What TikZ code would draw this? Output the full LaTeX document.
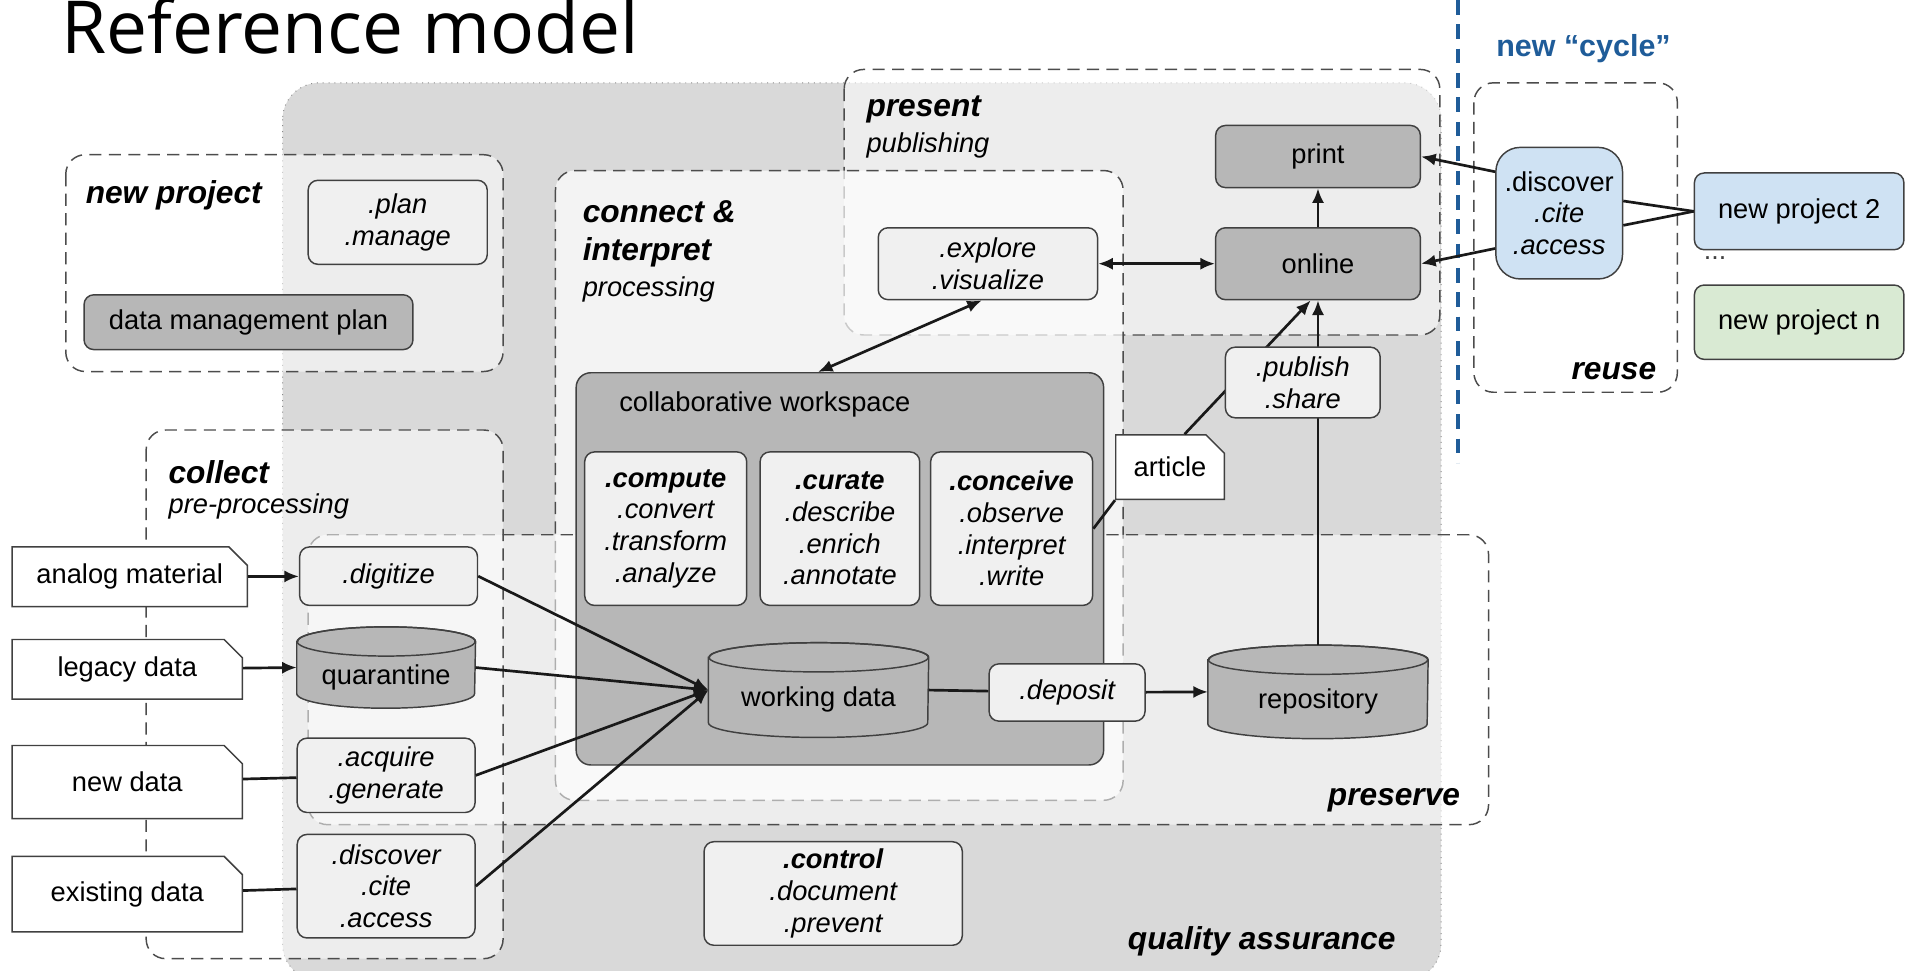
\documentclass[tikz,border=0pt]{standalone}
\usepackage{fontspec}
\setmainfont{Liberation Sans}
\newfontfamily\titlefont{Open Sans}
\usetikzlibrary{shapes.misc, positioning, arrows.meta}

\definecolor{qagray}{HTML}{D9D9D9}
\definecolor{darkfill}{HTML}{B7B7B7}
\definecolor{lightfill}{HTML}{F0F0F0}
\definecolor{reuseblue}{HTML}{CFE2F3}
\definecolor{reusegreen}{HTML}{D9EAD3}
\definecolor{cycleblue}{HTML}{1F5C99}

% ống dữ liệu: tên, x, y, rộng, cao, chữ
\newcommand{\datacyl}[6]{%
    \node[inner sep=0, minimum width=#4*0.5pt, minimum height=#5*0.5pt] (#1) at (#2,#3) {};
    \filldraw[cylline] ([yshift=-6pt]#1.north west) -- ([yshift=6pt]#1.south west)
        arc[start angle=180, end angle=360, x radius=#4*0.25pt, y radius=6pt]
        -- ([yshift=-6pt]#1.north east)
        arc[start angle=0, end angle=180, x radius=#4*0.25pt, y radius=6pt] -- cycle;
    \draw[cylline, fill=none] ([yshift=-6pt]#1.north) ellipse[x radius=#4*0.25pt, y radius=6pt];
    \node[inner sep=0, font=\fontsize{11.2}{13}\selectfont] (#1text) at ([yshift=-4pt]#1.center) {#6};%
}

\begin{document}
\begin{tikzpicture}[x=0.5pt, y=-0.5pt, >={Latex[length=6pt, width=5pt]},
    qaarea/.style={draw=black!45, dotted, fill=qagray, rounded corners=15pt},
    stage/.style={draw=black!70, line width=0.6pt, dash pattern=on 5pt off 3pt,
        rounded corners=8pt, fill=white, fill opacity=0.55},
    headlbl/.style={inner sep=0, align=left, font=\fontsize{13}{15.5}\selectfont\bfseries\itshape},
    sublbl/.style={inner sep=0, font=\fontsize{11.2}{13}\selectfont\itshape},
    sz/.style 2 args={minimum width=#1*0.5pt, minimum height=#2*0.5pt},
    tbox/.style={draw=black!75, line width=0.6pt, rounded corners=4pt, align=center,
        inner sep=2pt, font=\fontsize{11.2}{13}\selectfont},
    lbox/.style={tbox, fill=lightfill, font=\fontsize{11.2}{13}\selectfont\itshape},
    dbox/.style={tbox, fill=darkfill},
    cylline/.style={draw=black!75, line width=0.6pt, fill=darkfill},
    docbox/.style={chamfered rectangle, chamfered rectangle corners=north east,
        chamfered rectangle xsep=4pt, draw=black!75, line width=0.6pt, fill=white,
        font=\fontsize{11.2}{13}\selectfont},
    conn/.style={line width=1.1pt, black!90}]

    % Khung hình
    \clip (0,0) rectangle (1568,797);

    % 1. Tiêu đề và ranh giới chu trình mới
    \node[anchor=base west, inner sep=0, font=\titlefont\fontsize{30}{30}\selectfont] (title) at (50,44) {Reference model};
    \coordinate (cyctop) at (1197,0);
    \coordinate (cycbot) at (1197,380);
    \draw[cycleblue, line width=1.8pt, dash pattern=on 6pt off 4pt] (cyctop) -- (cycbot);
    \node[anchor=west, inner sep=0, text=cycleblue, font=\fontsize{12.5}{14}\selectfont\bfseries] (lblcycle) at (1228,40) {new “cycle”};

    % 2. Vùng quality assurance và các giai đoạn
    \draw[qaarea] (232,68) rectangle (1183,805);
    \draw[stage] (54,127) rectangle (413,305);
    \draw[stage] (693,57) rectangle (1182,275);
    \draw[stage, fill opacity=0.7] (456,140) rectangle (922,657);
    \draw[stage] (253,439) rectangle (1222,677);
    \draw[stage] (120,353) rectangle (413,787);
    \draw[stage, fill=none] (1210,68) rectangle (1377,322);

    \node[headlbl, anchor=east] (lblqa) at (1146,773) {quality assurance};
    \node[headlbl, anchor=west] (lblnew) at (70,160) {new project};
    \node[headlbl, anchor=west] (lblpresent) at (711,90) {present};
    \node[sublbl, anchor=west] (lblpublishing) at (711,119) {publishing};
    \node[headlbl, anchor=west] (lblconnect) at (478,192) {connect \&\\interpret};
    \node[sublbl, anchor=west] (lblprocessing) at (478,238) {processing};
    \node[headlbl, anchor=west] (lblcollect) at (138,388) {collect};
    \node[sublbl, anchor=west] (lblpreproc) at (138,416) {pre-processing};
    \node[headlbl, anchor=east] (lblpreserve) at (1199,657) {preserve};
    \node[headlbl, anchor=east] (lblreuse) at (1360,305) {reuse};

    % 3. new project
    \node[lbox, sz={147}{69}] (plan) at (326.5,182.5) {.plan\\.manage};
    \node[dbox, sz={270}{45}] (dmp) at (204,264.5) {data management plan};

    % 4. present
    \node[dbox, sz={168}{51}] (print) at (1082,128.5) {print};
    \node[dbox, sz={168}{59}] (online) at (1082,216.5) {online};
    \node[lbox, sz={180}{59}] (explore) at (811,216.5) {.explore\\.visualize};

    % 5. connect & interpret
    \node[dbox, sz={433}{322}, rounded corners=6pt] (workspace) at (689.5,467) {};
    \node[anchor=west, inner sep=0, font=\fontsize{11.2}{13}\selectfont] (lblworkspace) at (508,332) {collaborative workspace};
    \node[lbox, sz={133}{126}] (compute) at (546.5,434) {\textbf{.compute}\\.convert\\.transform\\.analyze};
    \node[lbox, sz={131}{126}] (curate) at (689.5,434) {\textbf{.curate}\\.describe\\.enrich\\.annotate};
    \node[lbox, sz={133}{126}] (conceive) at (830.5,434) {\textbf{.conceive}\\.observe\\.interpret\\.write};
    \datacyl{working}{672}{566.5}{180}{77}{working data}
    \node[lbox, sz={128}{47}] (deposit) at (876,568.5) {.deposit};
    \datacyl{repository}{1082}{568}{180}{76}{repository}
    \node[docbox, sz={89}{53}] (article) at (960.5,383.5) {article};

    % 6. collect
    \node[docbox, sz={193}{49}] (analog) at (106.5,473.5) {analog material};
    \node[docbox, sz={189}{49}] (legacy) at (104.5,549.5) {legacy data};
    \node[docbox, sz={189}{60}] (newdata) at (104.5,642) {new data};
    \node[docbox, sz={189}{62}] (existing) at (104.5,734) {existing data};
    \node[lbox, sz={146}{48}] (digitize) at (319,473) {.digitize};
    \datacyl{quarantine}{317}{548}{146}{66}{quarantine}
    \node[lbox, sz={146}{61}] (acquire) at (317,636.5) {.acquire\\.generate};
    \node[lbox, sz={146}{85}] (discover) at (317,727.5) {.discover\\.cite\\.access};

    % 7. quality assurance
    \node[lbox, sz={212}{85}] (control) at (684,733.5) {\textbf{.control}\\.document\\.prevent};

    % 8. reuse
    \node[tbox, fill=reuseblue, sz={104}{108}, rounded corners=10pt, font=\fontsize{11.2}{13}\selectfont\itshape] (reusedisc) at (1280,175) {\textup{.discover}\\.cite\\.access};
    \node[tbox, fill=reuseblue, sz={172}{63}] (newproj2) at (1477,173.5) {new project 2};
    \node[inner sep=0, text=black!75, font=\fontsize{11}{12}\selectfont] (dots) at (1408,212) {...};
    \node[tbox, fill=reusegreen, sz={172}{61}] (newprojn) at (1477,264.5) {new project n};

    % 9. Các mũi tên
    \draw[conn, ->] (analog) -- (digitize);
    \draw[conn, ->] (legacy) -- (quarantine.west);
    \draw[conn] (newdata) -- (acquire);
    \draw[conn] (existing) -- (discover);
    \draw[conn, ->] (digitize.east) -- (working.west);
    \draw[conn, ->] (quarantine.east) -- (working.west);
    \draw[conn, ->] (acquire.east) -- (working.west);
    \draw[conn, ->] (discover.east) -- (working.west);
    \draw[conn] (working.east) -- (deposit);
    \draw[conn, ->] (deposit) -- (repository.west);
    \draw[conn, ->] (repository.north) -- (online.south);
    \draw[conn] (conceive.east) -- (article.south west);
    \draw[conn, ->] ([xshift=6pt]article.north) -- ([xshift=-3pt]online.south);
    \draw[conn, ->] (online) -- (print);
    \draw[conn, <->] (explore) -- (online);
    \draw[conn, <->] ([xshift=-2.5pt]explore.south) -- ([xshift=-9pt]workspace.north);
    \draw[conn, ->] ([yshift=17pt]reusedisc.west) -- (print.east);
    \draw[conn, ->] ([yshift=-14.5pt]reusedisc.west) -- (online.east);
    \draw[conn] ([yshift=5pt]reusedisc.east) -- (newproj2.west);
    \draw[conn] ([yshift=-5pt]reusedisc.east) -- (newproj2.west);

    % publish nằm trên các đường nối
    \node[lbox, sz={127}{58}] (publish) at (1069.5,314) {.publish\\.share};

\end{tikzpicture}
\end{document}
